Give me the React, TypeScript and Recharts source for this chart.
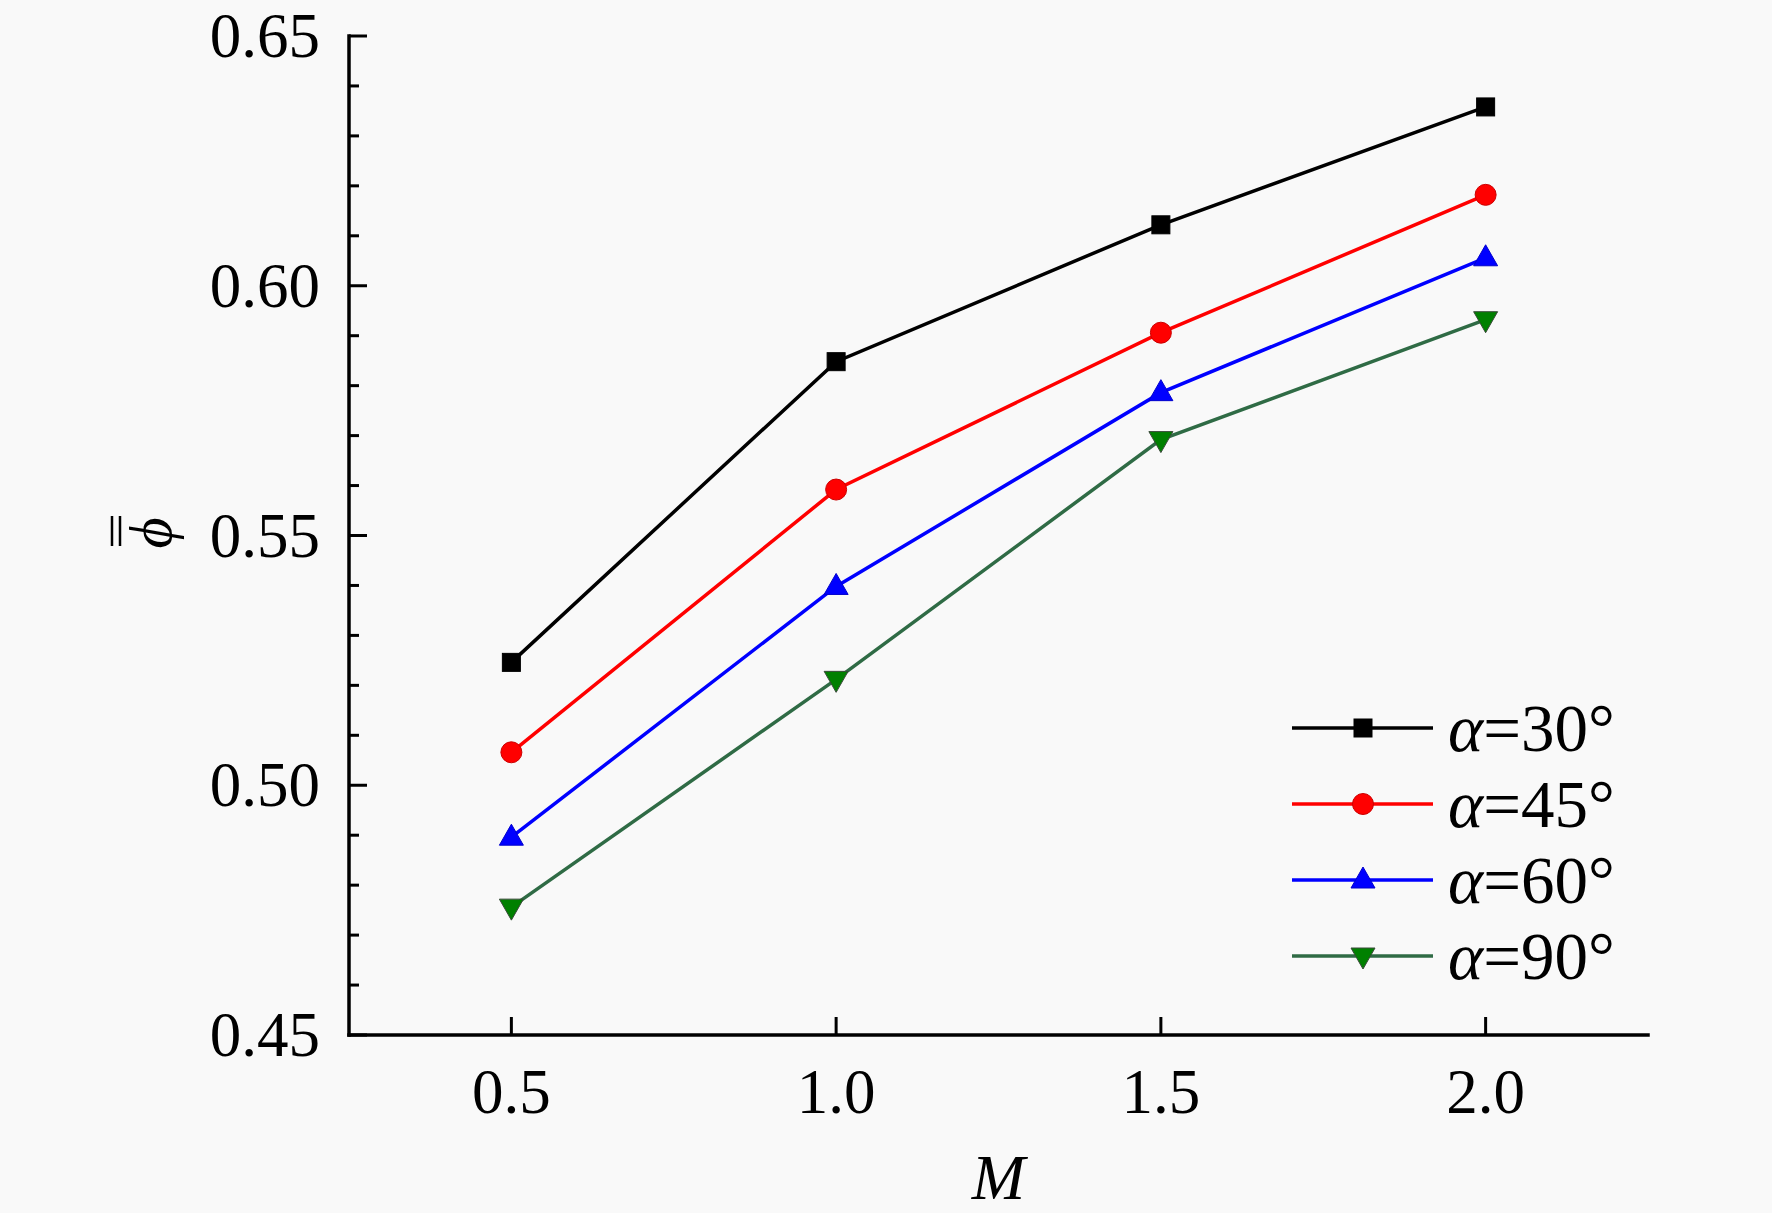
import React from 'react';
import { LineChart, Line, XAxis, YAxis, Legend } from 'recharts';

// M values on the x axis
const mValues = [0.5, 1.0, 1.5, 2.0];

// mean phi for each inclination angle
const phi30 = [0.5246, 0.5848, 0.6122, 0.6358];
const phi45 = [0.5066, 0.5592, 0.5906, 0.6182];
const phi60 = [0.4896, 0.5398, 0.5786, 0.6056];
const phi90 = [0.4756, 0.5212, 0.5692, 0.5932];

const xTicks = [0.5, 1.0, 1.5, 2.0];
const yMajorTicks = [0.45, 0.5, 0.55, 0.6, 0.65];
const yAllTicks = [
  0.45, 0.46, 0.47, 0.48, 0.49, 0.5, 0.51, 0.52, 0.53, 0.54, 0.55,
  0.56, 0.57, 0.58, 0.59, 0.6, 0.61, 0.62, 0.63, 0.64, 0.65,
];

const seriesNames = ['α=30°', 'α=45°', 'α=60°', 'α=90°'];

const data = mValues.map((m, i) => ({
  m,
  a30: phi30[i],
  a45: phi45[i],
  a60: phi60[i],
  a90: phi90[i],
}));

const FONT = '"Liberation Serif", "Times New Roman", serif';

type MarkerKind = 'square' | 'circle' | 'up' | 'down';

const Marker = ({ kind, cx, cy, fill, stroke }: { kind: MarkerKind; cx: number; cy: number; fill: string; stroke: string }) => {
  if (kind === 'square') {
    return <rect x={cx - 9} y={cy - 9} width={18} height={18} fill={fill} stroke={stroke} strokeWidth={1} />;
  }
  if (kind === 'circle') {
    return <circle cx={cx} cy={cy} r={10.5} fill={fill} stroke={stroke} strokeWidth={1} />;
  }
  if (kind === 'up') {
    return (
      <polygon
        points={`${cx},${cy - 13} ${cx - 12},${cy + 8} ${cx + 12},${cy + 8}`}
        fill={fill}
        stroke={stroke}
        strokeWidth={1}
      />
    );
  }
  return (
    <polygon
      points={`${cx},${cy + 13} ${cx - 12},${cy - 8} ${cx + 12},${cy - 8}`}
      fill={fill}
      stroke={stroke}
      strokeWidth={1}
    />
  );
};

const series = [
  { key: 'a30', name: seriesNames[0], line: '#000000', fill: '#000000', edge: '#000000', kind: 'square' as MarkerKind },
  { key: 'a45', name: seriesNames[1], line: '#ff0000', fill: '#ff0000', edge: '#cc0000', kind: 'circle' as MarkerKind },
  { key: 'a60', name: seriesNames[2], line: '#0000ff', fill: '#0000ff', edge: '#0000cc', kind: 'up' as MarkerKind },
  { key: 'a90', name: seriesNames[3], line: '#2f6b45', fill: '#008000', edge: '#3a4a3a', kind: 'down' as MarkerKind },
];

const XTick = (props: any) => {
  const { x, y, payload } = props;
  return (
    <g>
      <line x1={x} x2={x} y1={y} y2={y - 18} stroke="#000" strokeWidth={3} />
      <text x={x} y={y + 78} textAnchor="middle" fontFamily={FONT} fontSize={63} fill="#000">
        {Number(payload.value).toFixed(1)}
      </text>
    </g>
  );
};

const YTick = (props: any) => {
  const { x, y, payload } = props;
  const major = yMajorTicks.some((t) => Math.abs(t - payload.value) < 1e-6);
  return (
    <g>
      <line x1={x} x2={x + (major ? 18 : 10)} y1={y} y2={y} stroke="#000" strokeWidth={3} />
      {major && (
        <text x={x - 29} y={y + 21} textAnchor="end" fontFamily={FONT} fontSize={63} fill="#000">
          {Number(payload.value).toFixed(2)}
        </text>
      )}
    </g>
  );
};

// phi with a double bar, rotated like the original axis title
const PhiLabel = () => (
  <g transform="translate(171, 533) rotate(-90)">
    <text x={0} y={0} textAnchor="middle" fontFamily={FONT} fontStyle="italic" fontSize={60} fill="#000">
      ϕ
    </text>
    <line x1={-13} x2={17} y1={-59} y2={-59} stroke="#000" strokeWidth={2.5} />
    <line x1={-13} x2={17} y1={-51} y2={-51} stroke="#000" strokeWidth={2.5} />
  </g>
);

const LegendBox = () => (
  <svg width={380} height={310} style={{ display: 'block' }}>
    {series.map((s, i) => {
      const cy = 38 + i * 76;
      return (
        <g key={s.key}>
          <line x1={7} x2={148} y1={cy} y2={cy} stroke={s.line} strokeWidth={3.5} />
          <Marker kind={s.kind} cx={78} cy={cy} fill={s.fill} stroke={s.edge} />
          <text x={163} y={cy + 23} fontFamily={FONT} fontSize={67} fill="#000">
            <tspan fontStyle="italic">α</tspan>
            {s.name.slice(1)}
          </text>
        </g>
      );
    })}
  </svg>
);

const axisStroke = { stroke: '#000', strokeWidth: 3.5, strokeLinecap: 'square' as const };

export default function App() {
  return (
    <div style={{ position: 'absolute', left: 0, top: 0, width: 1772, height: 1213, background: '#f9f9f9' }}>
      <LineChart width={1772} height={1213} data={data} margin={{ top: 36, right: 124, bottom: 0, left: 0 }}>
        <XAxis
          dataKey="m"
          type="number"
          domain={[0.25, 2.25]}
          ticks={xTicks}
          interval={0}
          height={178}
          tickSize={0}
          tickMargin={0}
          tickLine={false}
          axisLine={axisStroke}
          tick={<XTick />}
          label={{
            value: 'M',
            position: 'insideBottom',
            offset: 14,
            fontFamily: FONT,
            fontStyle: 'italic',
            fontSize: 64,
            fill: '#000',
          }}
        />
        <XAxis
          xAxisId="top"
          orientation="top"
          type="number"
          domain={[0.25, 2.25]}
          height={0}
          tick={false}
          tickLine={false}
          axisLine={axisStroke}
        />
        <YAxis
          type="number"
          domain={[0.45, 0.65]}
          ticks={yAllTicks}
          interval={0}
          width={349}
          tickSize={0}
          tickMargin={0}
          tickLine={false}
          axisLine={axisStroke}
          tick={<YTick />}
          label={{ content: <PhiLabel /> }}
        />
        <YAxis
          yAxisId="right"
          orientation="right"
          type="number"
          domain={[0.45, 0.65]}
          width={0}
          tick={false}
          tickLine={false}
          axisLine={axisStroke}
        />
        {series.map((s) => (
          <Line
            key={s.key}
            dataKey={s.key}
            name={s.name}
            stroke={s.line}
            strokeWidth={3.5}
            isAnimationActive={false}
            dot={(p: any) => (
              <Marker key={`${s.key}-${p.index}`} kind={s.kind} cx={p.cx} cy={p.cy} fill={s.fill} stroke={s.edge} />
            )}
            activeDot={false}
          />
        ))}
        <Legend
          layout="vertical"
          align="center"
          verticalAlign="middle"
          content={() => <LegendBox />}
          wrapperStyle={{ position: 'absolute', left: 1285, top: 690, width: 380, height: 310 }}
        />
      </LineChart>
    </div>
  );
}
